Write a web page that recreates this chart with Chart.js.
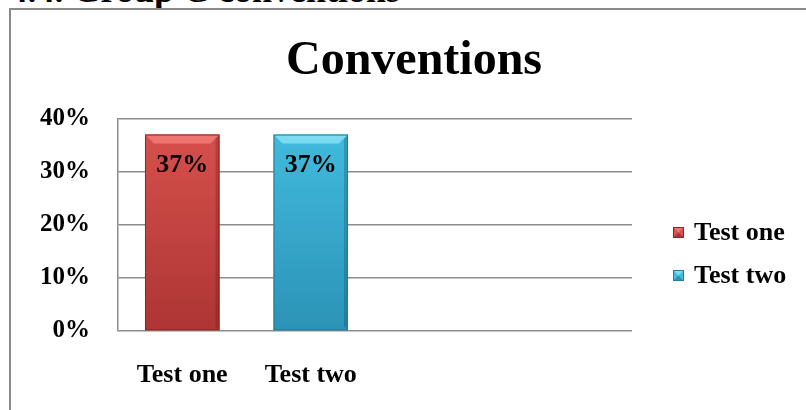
<!DOCTYPE html>
<html>

<head>
    <title>Conventions</title>
    <script src="https://cdn.jsdelivr.net/npm/chart.js"></script>
    <style>
        body { margin: 0; width: 806px; height: 410px; overflow: hidden; position: relative; background: #fff; }
        #heading { position: absolute; left: 0; top: -28px; width: 400px; text-align: right; white-space: nowrap;
            font: bold 36px/36px 'Liberation Serif', 'Times New Roman', serif; color: #000; }
        #frame { position: absolute; left: 9px; top: 8px; width: 900px; height: 500px; border: 2px solid #8a8a8a; }
        #wrap { position: absolute; left: 12px; top: 11px; width: 804px; height: 399px; }
    </style>
</head>

<body>
    <div id="heading">4.4. Group C conventions</div>
    <div id="frame"></div>
    <div id="wrap"><canvas id="convChart"></canvas></div>

    <script>
        // data
        const categories = ['Test one', 'Test two', '', ''];
        const seriesNames = ['Test one', 'Test two'];
        const testOne = [0.37, null, null, null];
        const testTwo = [null, 0.37, null, null];
        const yTicks = [0, 0.1, 0.2, 0.3, 0.4];

        const serif = "'Liberation Serif', 'Times New Roman', serif";

        // colours: [top bevel, body top, body bottom, border, right shade]
        const palettes = [
            ['#ee7471', '#d9524e', '#ad3533', '#8a2826', 'rgba(90,20,20,0.25)'],
            ['#7adbf3', '#43bde0', '#2b93b6', '#267a96', 'rgba(10,60,80,0.25)']
        ];

        function barFill(i) {
            return function (ctx) {
                const ca = ctx.chart.chartArea;
                const p = palettes[i];
                if (!ca) return p[1];
                const g = ctx.chart.ctx.createLinearGradient(0, ca.top, 0, ca.bottom);
                g.addColorStop(0, p[1]);
                g.addColorStop(1, p[2]);
                return g;
            };
        }

        // bevel highlight + value labels on bars
        const barExtras = {
            id: 'barExtras',
            afterDatasetsDraw(chart) {
                const c = chart.ctx;
                chart.data.datasets.forEach((ds, i) => {
                    const meta = chart.getDatasetMeta(i);
                    const p = palettes[i];
                    meta.data.forEach((el, j) => {
                        const v = ds.data[j];
                        if (v === null || v === undefined) return;
                        const l = el.x - el.width / 2, r = el.x + el.width / 2;
                        const t = el.y, b = el.base;
                        const bev = 9;
                        c.save();
                        c.fillStyle = p[0];
                        c.beginPath();
                        c.moveTo(l, t); c.lineTo(r, t); c.lineTo(r - bev, t + bev); c.lineTo(l + bev, t + bev); c.closePath();
                        c.fill();
                        c.fillStyle = p[4];
                        c.beginPath();
                        c.moveTo(r, t); c.lineTo(r, b); c.lineTo(r - 4, b - 4); c.lineTo(r - 4, t + 4); c.closePath();
                        c.fill();
                        c.strokeStyle = p[3];
                        c.lineWidth = 1;
                        c.strokeRect(l + 0.5, t + 0.5, el.width - 1, b - t - 1);
                        c.fillStyle = '#000';
                        c.font = 'bold 26px ' + serif;
                        c.textAlign = 'center';
                        c.textBaseline = 'middle';
                        c.fillText(Math.round(v * 100) + '%', el.x, t + 31);
                        c.restore();
                    });
                });
            }
        };

        // legend on the right
        const sideLegend = {
            id: 'sideLegend',
            afterDraw(chart) {
                const c = chart.ctx;
                const ys = [221, 264];
                chart.data.datasets.forEach((ds, i) => {
                    const p = palettes[i];
                    const x = 661, y = ys[i] - 5;
                    c.save();
                    c.fillStyle = p[1];
                    c.fillRect(x, y, 11, 11);
                    c.fillStyle = p[0];
                    c.beginPath(); c.moveTo(x, y); c.lineTo(x + 11, y); c.lineTo(x + 5.5, y + 5.5); c.closePath(); c.fill();
                    c.fillStyle = p[2];
                    c.beginPath(); c.moveTo(x, y + 11); c.lineTo(x + 11, y + 11); c.lineTo(x + 5.5, y + 5.5); c.closePath(); c.fill();
                    c.strokeStyle = p[3];
                    c.strokeRect(x + 0.5, y + 0.5, 10, 10);
                    c.fillStyle = '#000';
                    c.font = 'bold 26px ' + serif;
                    c.textAlign = 'left';
                    c.textBaseline = 'middle';
                    c.fillText(ds.label, 682, ys[i] + 1);
                    c.restore();
                });
            }
        };

        const ctx = document.getElementById('convChart').getContext('2d');

        const data = {
            labels: categories,
            datasets: [
                { label: seriesNames[0], data: testOne, backgroundColor: barFill(0) },
                { label: seriesNames[1], data: testTwo, backgroundColor: barFill(1) }
            ]
        };

        const options = {
            responsive: true,
            maintainAspectRatio: false,
            animation: false,
            grouped: false,
            categoryPercentage: 1,
            barPercentage: 0.58,
            layout: { padding: 0 },
            plugins: {
                legend: { display: false },
                tooltip: { enabled: false },
                title: {
                    display: true,
                    text: 'Conventions',
                    color: '#000',
                    font: { family: serif, size: 48, weight: 'bold' },
                    padding: { top: 22, bottom: 28 }
                }
            },
            scales: {
                x: {
                    grid: { display: false },
                    border: { display: false },
                    ticks: { color: '#000', padding: 21, font: { family: serif, size: 26, weight: 'bold' } },
                    afterFit: s => { s.height = 79; }
                },
                y: {
                    min: yTicks[0],
                    max: yTicks[yTicks.length - 1],
                    afterBuildTicks: s => { s.ticks = yTicks.map(v => ({ value: v })); },
                    grid: { color: '#8c8c8c', lineWidth: 1.5, drawTicks: false },
                    border: { display: true, color: '#8c8c8c', width: 1.5 },
                    ticks: {
                        color: '#000',
                        padding: 28,
                        font: { family: serif, size: 25, weight: 'bold' },
                        callback: v => Math.round(v * 100) + '%'
                    },
                    afterFit: s => { s.width = 106; }
                },
                // empty right-hand axis that reserves room for the legend
                side: {
                    type: 'linear',
                    position: 'right',
                    grid: { display: false },
                    border: { display: false },
                    ticks: { display: false },
                    afterFit: s => { s.width = 184; }
                }
            }
        };

        new Chart(ctx, { type: 'bar', data, options, plugins: [barExtras, sideLegend] });
    </script>
</body>

</html>
